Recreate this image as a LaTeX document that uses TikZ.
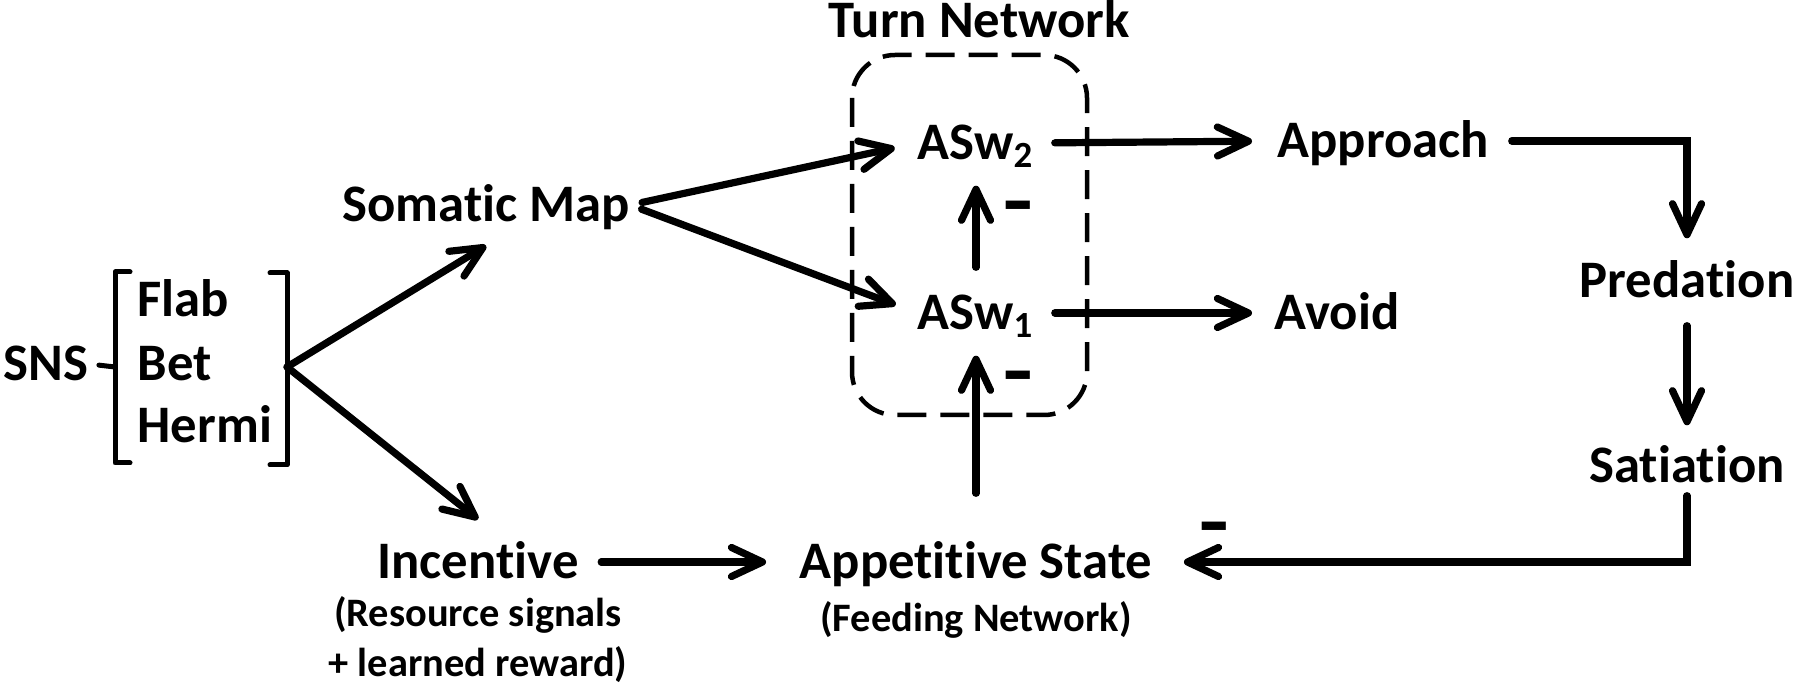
\documentclass[tikz,border=0pt]{standalone}
\usepackage{fontspec}
\setmainfont{Carlito}[Ligatures=NoCommon]
\newfontfamily\signfont{Liberation Sans}
\usetikzlibrary{arrows.meta, positioning}

\begin{document}
\begin{tikzpicture}[x=0.1mm, y=-0.1mm, every node/.style={inner sep=0pt},
        lbl/.style={font=\fontsize{15}{18}\selectfont\bfseries, text height=3.4mm, text depth=0mm},
        sub/.style={font=\fontsize{11.5}{14.2}\selectfont\bfseries, align=center},
        minus/.style={font=\signfont\fontsize{20}{24}\selectfont\bfseries, anchor=base},
        arr/.style={line width=0.72mm, line cap=round, -{Straight Barb[length=3.1mm, width=2.9mm, round]}},
        brk/.style={line width=0.5mm, line cap=round, line join=round},
        turnbox/.style={line width=0.45mm, dash pattern=on 2.9mm off 1.4mm, rounded corners=4.3mm}]
        \useasboundingbox (0,0) rectangle (1800,690);

        % Sensory inputs
        \node[lbl] (sns) at (46,364) {SNS};
        \node[lbl, anchor=west] (flab) at (137,300) {Flab};
        \node[lbl, anchor=west] (bet) at (137,364) {Bet};
        \node[lbl, anchor=west] (hermi) at (137,426) {Hermi};
        \coordinate (lb) at (115,367);
        \coordinate (fork) at (287,367);
        \draw[brk] (130,272) -- (115,272) -- (115,463) -- (130,463);
        \draw[brk] (270,273) -- (287,273) -- (287,465) -- (270,465);
        \draw[brk, shorten <=1mm] (sns.east) -- (lb);

        % Somatic map and incentive
        \node[lbl] (somatic) at (486,205) {Somatic Map};
        \node[lbl] (incentive) at (478,562) {Incentive};
        \node[sub, below=1.6mm of incentive] (resource) {(Resource signals\\+ learned reward)};

        % Turn network
        \node[lbl] (turn) at (979,21) {Turn Network};
        \draw[turnbox] (852,55) rectangle (1087,415);
        \node[lbl] (asw2) at (976,143) {ASw\textsubscript{2}};
        \node[lbl] (asw1) at (976,313) {ASw\textsubscript{1}};

        % Appetitive state
        \node[lbl] (appetitive) at (976,562) {Appetitive State};
        \node[sub, below=2.1mm of appetitive] (feeding) {(Feeding Network)};

        % Behaviours
        \node[lbl, anchor=west] (approach) at (1277,141) {Approach};
        \node[lbl, anchor=west] (avoid) at (1274,313) {Avoid};
        \node[lbl] (predation) at (1687,281) {Predation};
        \node[lbl] (satiation) at (1687,466) {Satiation};

        % Inhibition signs
        \node[minus] (m2) at (1018,224) {\scalebox{1.35}[1]{-}};
        \node[minus] (m1) at (1018,394) {\scalebox{1.35}[1]{-}};
        \node[minus] (m0) at (1214,545) {\scalebox{1.35}[1]{-}};

        % Arrows
        \draw[arr] (fork) -- ([yshift=-2.3mm]somatic.south);
        \draw[arr] (fork) -- ([yshift=2.5mm]incentive.north);
        \draw[arr, shorten <=1.2mm, shorten >=2.3mm] (somatic.east) -- (asw2.west);
        \draw[arr, shorten <=1.2mm, shorten >=2.3mm] (somatic.east) -- (asw1.west);
        \draw[arr, shorten <=2mm, shorten >=2.5mm] (asw2.east) -- (approach.west);
        \draw[arr, shorten <=2mm, shorten >=2.2mm] (asw1.east) -- (avoid.west);
        \draw[arr, shorten <=2.2mm, shorten >=2.5mm] (approach.east) -| (predation.north);
        \draw[arr, shorten <=2.7mm, shorten >=2.3mm] (predation.south) -- (satiation.north);
        \draw[arr, shorten <=1.2mm, shorten >=3.1mm] (satiation.south) |- (appetitive.east);
        \draw[arr, shorten <=2.2mm, shorten >=3.3mm] (incentive.east) -- (appetitive.west);
        \draw[arr, shorten <=5.1mm, shorten >=2.5mm] (appetitive.north) -- (asw1.south);
        \draw[arr, shorten <=2.8mm, shorten >=2.5mm] (asw1.north) -- (asw2.south);
\end{tikzpicture}
\end{document}
